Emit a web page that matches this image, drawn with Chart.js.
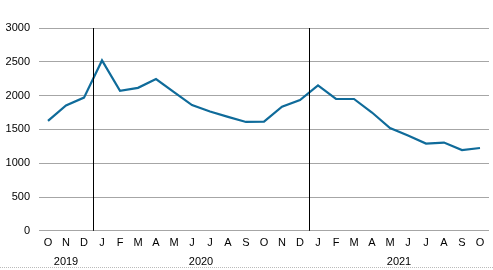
<!DOCTYPE html>
<html>
<head>
<meta charset="utf-8">
<script src="https://cdn.jsdelivr.net/npm/chart.js@4"></script>
<style>
  html, body { margin: 0; padding: 0; background: #fff; }
  #wrap { width: 493px; height: 270px; position: relative; }
  #wrap::after { content: ''; position: absolute; left: 0; right: 0; bottom: 2px; border-bottom: 1px dotted #bbb; }
</style>
</head>
<body>
<div id="wrap"><canvas id="lineChart" width="493" height="270"></canvas></div>
<script>
// ─── DATA ───
const MONTHS = ['O', 'N', 'D', 'J', 'F', 'M', 'A', 'M', 'J', 'J', 'A', 'S', 'O', 'N', 'D',
                'J', 'F', 'M', 'A', 'M', 'J', 'J', 'A', 'S', 'O'];
const VALUES = [1625, 1855, 1970, 2520, 2070, 2115, 2245, 2050, 1860, 1765, 1685, 1610, 1615,
                1835, 1935, 2150, 1950, 1950, 1750, 1520, 1410, 1290, 1305, 1195, 1225];
const YEARS = ['2019', '2020', '2021'];
const YEAR_FIRST = [0, 3, 15];   // index of first month in each year
const YEAR_LAST = [2, 14, 24];   // index of last month in each year

const FONT = { family: 'Liberation Sans, Arial, sans-serif', size: 11 };

// year dividers + year captions under the month ticks
const yearPlugin = {
  id: 'years',
  afterDraw(chart) {
    const { ctx, chartArea, scales: { x } } = chart;
    ctx.save();
    ctx.strokeStyle = '#000';
    ctx.lineWidth = 1;
    YEAR_FIRST.slice(1).forEach(i => {
      const px = Math.round(x.getPixelForValue(i - 0.5)) + 0.5;
      ctx.beginPath();
      ctx.moveTo(px, chartArea.top);
      ctx.lineTo(px, chartArea.bottom);
      ctx.stroke();
    });
    ctx.fillStyle = '#000';
    ctx.font = `${FONT.size}px ${FONT.family}`;
    ctx.textAlign = 'center';
    ctx.textBaseline = 'middle';
    YEARS.forEach((y, i) => {
      const px = x.getPixelForValue((YEAR_FIRST[i] + YEAR_LAST[i]) / 2);
      ctx.fillText(y, px, chartArea.bottom + 31);
    });
    ctx.restore();
  },
};

new Chart(document.getElementById('lineChart').getContext('2d'), {
  type: 'line',
  data: {
    labels: MONTHS,
    datasets: [{
      data: VALUES,
      borderColor: '#0f6b9a',
      borderWidth: 2.2,
      pointRadius: 0,
      tension: 0,
      fill: false,
    }],
  },
  options: {
    responsive: false,
    animation: false,
    layout: { padding: { top: 28, right: 4, bottom: 14, left: 0 } },
    plugins: { legend: { display: false }, tooltip: { enabled: false } },
    scales: {
      x: {
        offset: true,
        grid: { display: false, drawTicks: false, tickLength: 0 },
        border: { display: false },
        ticks: { color: '#000', font: FONT, padding: 6, maxRotation: 0, autoSkip: false },
      },
      y: {
        min: 0, max: 3000,
        afterFit: s => { s.width = 39; },
        grid: { color: '#a6a6a6', drawTicks: false },
        border: { display: false },
        ticks: { stepSize: 500, color: '#000', font: FONT, padding: 9, callback: v => String(v) },
      },
    },
  },
  plugins: [yearPlugin],
});
</script>
</body>
</html>
